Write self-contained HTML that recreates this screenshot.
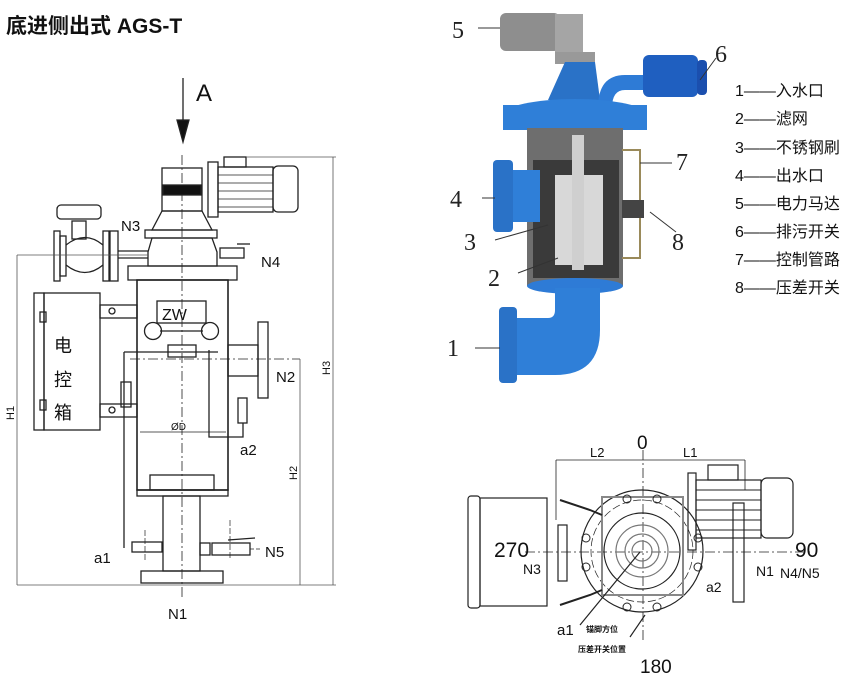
<!DOCTYPE html>
<html><head><meta charset="utf-8"><style>
html,body{margin:0;padding:0;background:#fff;width:868px;height:684px;overflow:hidden}
svg{display:block}
.t{font-family:"Liberation Sans","Noto Sans CJK SC",sans-serif}
.s{font-family:"Liberation Serif",serif}
</style></head><body>
<svg width="868" height="684" viewBox="0 0 868 684" xmlns="http://www.w3.org/2000/svg">
<text x="6" y="33" class="t" font-size="21" font-weight="bold" fill="#111">底进侧出式 AGS-T</text>

<!-- LEFT DRAWING -->
<g stroke="#222" fill="none" stroke-width="1.3">
<line x1="183" y1="78" x2="183" y2="122"/>
<polygon points="177,120 189,120 183,142" fill="#111"/>
<line x1="182" y1="155" x2="182" y2="600" stroke-dasharray="10,3,2,3" stroke-width="0.8"/>
<rect x="208" y="162" width="10" height="55"/>
<rect x="218" y="167" width="55" height="45"/>
<rect x="273" y="166" width="25" height="46" rx="5"/>
<rect x="224" y="157" width="22" height="10"/>
<g stroke-width="0.8"><line x1="218" y1="175" x2="273" y2="175"/><line x1="218" y1="183" x2="273" y2="183"/><line x1="218" y1="191" x2="273" y2="191"/><line x1="218" y1="199" x2="273" y2="199"/><line x1="218" y1="207" x2="273" y2="207"/></g>
<rect x="162" y="168" width="40" height="43"/>
<rect x="163" y="185" width="38" height="10" fill="#111"/>
<polygon points="162,211 202,211 212,230 152,230"/>
<rect x="145" y="230" width="72" height="8"/>
<path d="M152,238 L212,238 L217,252 L217,266 L148,266 L148,252 Z"/>
<rect x="128" y="266" width="109" height="14"/>
<rect x="220" y="248" width="24" height="10"/>
<line x1="237" y1="244" x2="250" y2="244"/>
<rect x="137" y="280" width="91" height="210" stroke-width="1.6"/>
<rect x="137" y="490" width="91" height="6"/>
<rect x="150" y="475" width="64" height="15"/>
<rect x="163" y="496" width="37" height="75"/>
<rect x="141" y="571" width="82" height="12"/>
<rect x="157" y="301" width="49" height="22"/>
<circle cx="153" cy="331" r="8.5"/><circle cx="210" cy="331" r="8.5"/>
<line x1="160" y1="331" x2="203" y2="331"/>
<rect x="168" y="345" width="28" height="12"/>
<line x1="124" y1="352" x2="218" y2="352"/>
<line x1="124" y1="352" x2="124" y2="548"/>
<polyline points="209,350 209,437 243,437 243,423"/>
<rect x="238" y="398" width="9" height="25"/>
<rect x="228" y="345" width="30" height="31"/>
<rect x="258" y="322" width="10" height="76"/>
<line x1="130" y1="359" x2="300" y2="359" stroke-dasharray="10,3,2,3" stroke-width="0.8"/>
<rect x="34" y="293" width="10" height="137"/>
<rect x="44" y="293" width="56" height="137"/>
<rect x="40" y="312" width="6" height="10"/><rect x="40" y="400" width="6" height="10"/>
<rect x="100" y="305" width="37" height="13"/><rect x="100" y="404" width="37" height="13"/>
<circle cx="112" cy="311" r="3"/><circle cx="112" cy="410" r="3"/>
<rect x="121" y="382" width="10" height="25"/>
<rect x="57" y="205" width="44" height="14" rx="4"/>
<rect x="72" y="221" width="14" height="18"/>
<rect x="54" y="231" width="6" height="50"/><rect x="60" y="236" width="6" height="40"/>
<rect x="103" y="231" width="6" height="50"/><rect x="110" y="231" width="8" height="50"/>
<path d="M66,245 Q85,230 103,245 M66,265 Q85,280 103,265"/>
<line x1="118" y1="251" x2="148" y2="251"/><line x1="118" y1="258" x2="148" y2="258"/>
<line x1="140" y1="432" x2="226" y2="432" stroke-width="0.8"/>
<rect x="132" y="542" width="30" height="10"/>
<rect x="200" y="543" width="10" height="12"/><rect x="212" y="543" width="38" height="12"/>
<line x1="228" y1="540" x2="255" y2="538"/>
<line x1="230" y1="520" x2="230" y2="560" stroke-dasharray="6,2" stroke-width="0.7"/>
<line x1="145" y1="530" x2="145" y2="560" stroke-dasharray="6,2" stroke-width="0.7"/>
<line x1="250" y1="549" x2="262" y2="549" stroke-dasharray="4,2" stroke-width="0.7"/>
<g stroke="#555" stroke-width="0.8">
<line x1="17" y1="255" x2="17" y2="585"/>
<line x1="17" y1="255" x2="148" y2="255"/>
<line x1="333" y1="157" x2="333" y2="585"/>
<line x1="246" y1="157" x2="336" y2="157"/>
<line x1="300" y1="359" x2="300" y2="585"/>
<line x1="17" y1="585" x2="336" y2="585"/>
</g>
</g>
<g class="t" fill="#111">
<text x="196" y="101" font-size="24">A</text>
<text x="121" y="231" font-size="15">N3</text>
<text x="261" y="267" font-size="15">N4</text>
<text x="276" y="382" font-size="15">N2</text>
<text x="240" y="455" font-size="15">a2</text>
<text x="94" y="563" font-size="15">a1</text>
<text x="265" y="557" font-size="15">N5</text>
<text x="168" y="619" font-size="15">N1</text>
<text x="162" y="320" font-size="16">ZW</text>
<text x="171" y="430" font-size="10">ØD</text>
<text x="54" y="352" font-size="18">电</text>
<text x="54" y="386" font-size="18">控</text>
<text x="54" y="419" font-size="18">箱</text>
<text transform="translate(14,420) rotate(-90)" font-size="11">H1</text>
<text transform="translate(297,480) rotate(-90)" font-size="11">H2</text>
<text transform="translate(330,375) rotate(-90)" font-size="11">H3</text>
</g>

<!-- TOP RIGHT 3D -->
<rect x="500" y="13" width="60" height="38" rx="6" fill="#8e8e8e"/>
<rect x="555" y="14" width="28" height="38" fill="#a5a5a5"/>
<rect x="555" y="52" width="40" height="12" fill="#999"/>
<path d="M548,100 L565,62 L595,62 L600,100 Z" fill="#2a72c7"/>
<path d="M598,108 Q598,75 625,75 L645,75 L645,90 L625,90 Q612,90 612,108 Z" fill="#2e7bd6"/>
<rect x="643" y="55" width="55" height="42" rx="6" fill="#1f5fc0"/>
<rect x="697" y="60" width="10" height="35" rx="4" fill="#1b4fae"/>
<ellipse cx="575" cy="115" rx="72" ry="16" fill="#2f7fd8"/>
<rect x="503" y="105" width="144" height="25" fill="#2f7fd8"/>
<rect x="527" y="128" width="96" height="158" fill="#6e6e6e"/>
<rect x="533" y="160" width="86" height="118" fill="#3a3a3a"/>
<rect x="555" y="175" width="20" height="90" fill="#d8d8d8"/>
<rect x="583" y="175" width="20" height="90" fill="#d8d8d8"/>
<rect x="572" y="135" width="12" height="135" fill="#cfcfcf"/>
<ellipse cx="575" cy="286" rx="48" ry="8" fill="#2e7bd6"/>
<path d="M555,288 L600,288 L600,330 Q600,375 555,375 L515,375 L515,318 L548,318 Q555,318 555,310 Z" fill="#2f7fd8"/>
<rect x="499" y="307" width="18" height="76" rx="4" fill="#2a72c7"/>
<rect x="513" y="170" width="27" height="52" fill="#2f7fd8"/>
<rect x="493" y="160" width="20" height="72" rx="4" fill="#2a72c7"/>
<path d="M622,150 H640 V258 H622" fill="none" stroke="#9a8a5a" stroke-width="2"/>
<rect x="622" y="200" width="22" height="18" fill="#444"/>
<g stroke="#333" stroke-width="1" fill="none">
<line x1="478" y1="28" x2="500" y2="28"/>
<line x1="700" y1="80" x2="716" y2="58"/>
<line x1="640" y1="163" x2="672" y2="163"/>
<line x1="650" y1="212" x2="676" y2="232"/>
<line x1="482" y1="198" x2="495" y2="198"/>
<line x1="495" y1="240" x2="548" y2="225"/>
<line x1="518" y1="273" x2="558" y2="258"/>
<line x1="475" y1="348" x2="500" y2="348"/>
</g>
<g class="s" fill="#222" font-size="24">
<text x="452" y="38">5</text><text x="715" y="62">6</text><text x="676" y="170">7</text>
<text x="672" y="250">8</text><text x="450" y="207">4</text><text x="464" y="250">3</text>
<text x="488" y="286">2</text><text x="447" y="356">1</text>
</g>
<g class="t" fill="#111" font-size="16">
<text x="735" y="96">1——入水口</text>
<text x="735" y="124">2——滤网</text>
<text x="735" y="153">3——不锈钢刷</text>
<text x="735" y="181">4——出水口</text>
<text x="735" y="209">5——电力马达</text>
<text x="735" y="237">6——排污开关</text>
<text x="735" y="265">7——控制管路</text>
<text x="735" y="293">8——压差开关</text>
</g>

<!-- BOTTOM RIGHT TOP VIEW -->
<g stroke="#222" fill="none" stroke-width="1.2">
<line x1="643" y1="450" x2="643" y2="640" stroke-dasharray="10,3,2,3" stroke-width="0.8"/>
<line x1="525" y1="552" x2="810" y2="552" stroke-dasharray="10,3,2,3" stroke-width="0.8"/>
<line x1="556" y1="460" x2="745" y2="460" stroke-width="0.8"/>
<line x1="556" y1="460" x2="556" y2="520" stroke-width="0.8"/>
<line x1="745" y1="460" x2="745" y2="490" stroke-width="0.8"/>
<circle cx="642" cy="551" r="61"/>
<circle cx="642" cy="551" r="51" stroke-dasharray="8,3" stroke-width="0.7"/>
<circle cx="642" cy="551" r="38"/>
<circle cx="642" cy="551" r="26" stroke="#777"/>
<circle cx="642" cy="551" r="17" stroke="#777"/>
<circle cx="642" cy="551" r="10" stroke="#777"/>
<rect x="602" y="497" width="81" height="98" stroke="#888" stroke-width="2"/>
<g stroke-width="1"><circle cx="627" cy="499" r="4"/><circle cx="657" cy="499" r="4"/><circle cx="586" cy="538" r="4"/><circle cx="698" cy="538" r="4"/><circle cx="586" cy="567" r="4"/><circle cx="698" cy="567" r="4"/><circle cx="627" cy="607" r="4"/><circle cx="657" cy="607" r="4"/></g>
<rect x="468" y="496" width="12" height="112" rx="3"/>
<rect x="480" y="498" width="67" height="108"/>
<rect x="558" y="525" width="9" height="56"/>
<path d="M560,500 L590,510 L602,515 M560,605 L590,595 L602,590" stroke-width="2"/>
<rect x="688" y="473" width="8" height="77"/>
<rect x="696" y="480" width="65" height="58"/>
<rect x="761" y="478" width="32" height="60" rx="6"/>
<rect x="708" y="465" width="30" height="15"/>
<g stroke-width="1"><line x1="696" y1="490" x2="761" y2="490"/><line x1="696" y1="500" x2="761" y2="500"/><line x1="696" y1="510" x2="761" y2="510"/><line x1="696" y1="520" x2="761" y2="520"/><line x1="696" y1="530" x2="761" y2="530"/></g>
<rect x="733" y="503" width="11" height="99"/>
<line x1="640" y1="552" x2="580" y2="625"/>
<line x1="645" y1="615" x2="630" y2="637"/>
</g>
<g class="t" fill="#111">
<text x="637" y="449" font-size="19">0</text>
<text x="590" y="457" font-size="13">L2</text>
<text x="683" y="457" font-size="13">L1</text>
<text x="494" y="557" font-size="21">270</text>
<text x="523" y="574" font-size="14">N3</text>
<text x="795" y="557" font-size="21">90</text>
<text x="756" y="576" font-size="14">N1</text>
<text x="780" y="578" font-size="14">N4/N5</text>
<text x="706" y="592" font-size="14">a2</text>
<text x="557" y="635" font-size="15">a1</text>
<text x="586" y="632" font-size="8" font-weight="bold">锚脚方位</text>
<text x="578" y="652" font-size="8" font-weight="bold">压差开关位置</text>
<text x="640" y="673" font-size="19">180</text>
</g>
</svg>
</body></html>
